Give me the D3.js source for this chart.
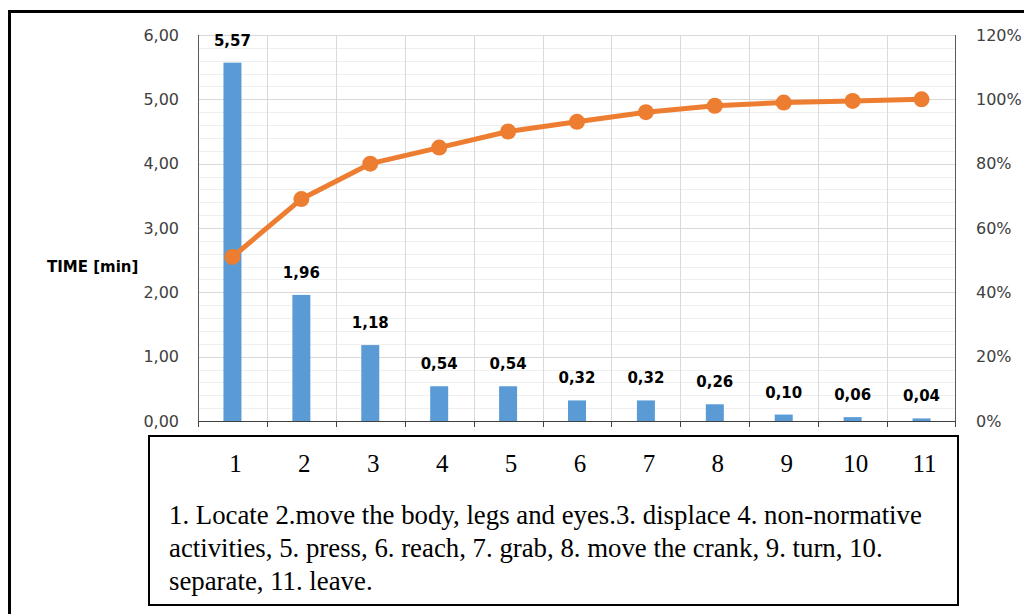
<!DOCTYPE html>
<meta charset="utf-8">
<style>
    body { margin: 0; background: #fff; }
    svg { display: block; }
    .axis text { font-family: "DejaVu Sans", sans-serif; font-size: 16px; fill: #404040; }
    .lbl { font-family: "DejaVu Sans", sans-serif; font-size: 15px; font-weight: bold; fill: #000; }
    .serif { font-family: "Liberation Serif", "Times New Roman", serif; fill: #000; }
</style>
<svg width="1024" height="614"></svg>
<script src="https://cdn.jsdelivr.net/npm/d3@7"></script>
<script>

    // data
    var categories = ["1", "2", "3", "4", "5", "6", "7", "8", "9", "10", "11"];
    var times = [5.57, 1.96, 1.18, 0.54, 0.54, 0.32, 0.32, 0.26, 0.10, 0.06, 0.04];
    var cumulative = [51, 69, 80, 85, 90, 93, 96, 98, 99, 99.5, 100];
    var leftTicks = [0, 1, 2, 3, 4, 5, 6];
    var rightTicks = [0, 20, 40, 60, 80, 100, 120];
    var noteLines = [
        "1. Locate 2.move the body, legs and eyes.3. displace 4. non-normative",
        "activities, 5. press, 6. reach, 7. grab, 8. move the crank, 9. turn, 10.",
        "separate, 11. leave."
    ];

    var svg = d3.select("svg");

    var plotL = 198, plotR = 956, plotT = 35, plotB = 421;

    var x = d3.scaleBand().domain(categories).range([plotL, plotR]);
    var y = d3.scaleLinear().domain([0, 6]).range([plotB, plotT]);
    var y2 = d3.scaleLinear().domain([0, 120]).range([plotB, plotT]);

    var fmt = function (v) { return d3.format(".2f")(v).replace(".", ","); };
    var cx = function (d, i) { return x(categories[i]) + x.bandwidth() / 2; };

    // outer frame (left and top edges visible)
    svg.append("path")
        .attr("d", "M9.5,614 V11.5 H1024")
        .attr("fill", "none").attr("stroke", "#000").attr("stroke-width", 3);

    // minor gridlines
    svg.append("g").selectAll("line")
        .data(d3.range(0, 6.01, 0.2))
        .join("line")
        .attr("x1", plotL).attr("x2", plotR)
        .attr("y1", d => Math.round(y(d)) + 0.5).attr("y2", d => Math.round(y(d)) + 0.5)
        .attr("stroke", "#efefef");

    // major gridlines
    svg.append("g").selectAll("line")
        .data(leftTicks)
        .join("line")
        .attr("x1", plotL).attr("x2", plotR)
        .attr("y1", d => Math.round(y(d)) + 0.5).attr("y2", d => Math.round(y(d)) + 0.5)
        .attr("stroke", "#d9d9d9");

    // vertical gridlines at category edges
    svg.append("g").selectAll("line")
        .data(categories.slice(1))
        .join("line")
        .attr("x1", d => Math.round(x(d)) + 0.5).attr("x2", d => Math.round(x(d)) + 0.5)
        .attr("y1", plotT).attr("y2", plotB)
        .attr("stroke", "#d9d9d9");

    // bars
    var bw = 18;
    svg.append("g").selectAll("rect")
        .data(times)
        .join("rect")
        .attr("x", (d, i) => cx(d, i) - bw / 2)
        .attr("y", d => y(d))
        .attr("width", bw)
        .attr("height", d => plotB - y(d))
        .attr("fill", "#5b9bd5");

    // bar labels
    svg.append("g").selectAll("text")
        .data(times)
        .join("text")
        .attr("class", "lbl")
        .attr("x", cx)
        .attr("y", d => y(d) - 17)
        .attr("text-anchor", "middle")
        .text(fmt);

    // axis lines
    svg.append("line")
        .attr("x1", plotL + 0.5).attr("x2", plotL + 0.5).attr("y1", plotT).attr("y2", plotB)
        .attr("stroke", "#595959");
    svg.append("line")
        .attr("x1", plotR - 0.5).attr("x2", plotR - 0.5).attr("y1", plotT).attr("y2", plotB)
        .attr("stroke", "#595959");

    // bottom axis with ticks at category edges
    svg.append("line")
        .attr("x1", plotL).attr("x2", plotR).attr("y1", plotB + 0.5).attr("y2", plotB + 0.5)
        .attr("stroke", "#404040");
    svg.append("g").selectAll("line")
        .data(categories.map(c => x(c)).concat([plotR - 1]))
        .join("line")
        .attr("x1", d => Math.round(d) + 0.5).attr("x2", d => Math.round(d) + 0.5)
        .attr("y1", plotB).attr("y2", plotB + 6)
        .attr("stroke", "#404040");

    // left axis labels
    var gl = svg.append("g").attr("class", "axis")
        .attr("transform", "translate(" + plotL + ",0)")
        .call(d3.axisLeft(y).tickValues(leftTicks).tickSize(0).tickPadding(19).tickFormat(fmt));
    gl.select(".domain").remove();

    // right axis labels
    var gr = svg.append("g").attr("class", "axis")
        .attr("transform", "translate(" + plotR + ",0)")
        .call(d3.axisRight(y2).tickValues(rightTicks).tickSize(0).tickPadding(20).tickFormat(d => d + "%"));
    gr.select(".domain").remove();
    gr.selectAll("text").attr("font-size", 15.5);

    // y axis title
    svg.append("text")
        .attr("x", 47).attr("y", 272)
        .attr("font-family", "'DejaVu Sans', sans-serif")
        .attr("font-size", 15).attr("font-weight", "bold")
        .attr("fill", "#000")
        .text("TIME [min]");

    // cumulative line
    var line = d3.line()
        .x(cx)
        .y(d => y2(d));

    svg.append("path")
        .datum(cumulative)
        .attr("d", line)
        .attr("fill", "none")
        .attr("stroke", "#ed7d31")
        .attr("stroke-width", 5)
        .attr("stroke-linejoin", "round");

    svg.append("g").selectAll("circle")
        .data(cumulative)
        .join("circle")
        .attr("cx", cx)
        .attr("cy", d => y2(d))
        .attr("r", 8)
        .attr("fill", "#ed7d31");

    // caption box
    svg.append("rect")
        .attr("x", 149).attr("y", 436)
        .attr("width", 809).attr("height", 169)
        .attr("fill", "#fff").attr("stroke", "#000").attr("stroke-width", 2);

    svg.append("g").selectAll("text")
        .data(categories)
        .join("text")
        .attr("class", "serif")
        .attr("font-size", 25)
        .attr("x", (d, i) => cx(d, i) + 3)
        .attr("y", 472)
        .attr("text-anchor", "middle")
        .text(d => d);

    svg.append("g").selectAll("text")
        .data(noteLines)
        .join("text")
        .attr("class", "serif")
        .attr("font-size", 26.8)
        .attr("x", 169)
        .attr("y", (d, i) => 524 + i * 33)
        .text(d => d);

</script>
